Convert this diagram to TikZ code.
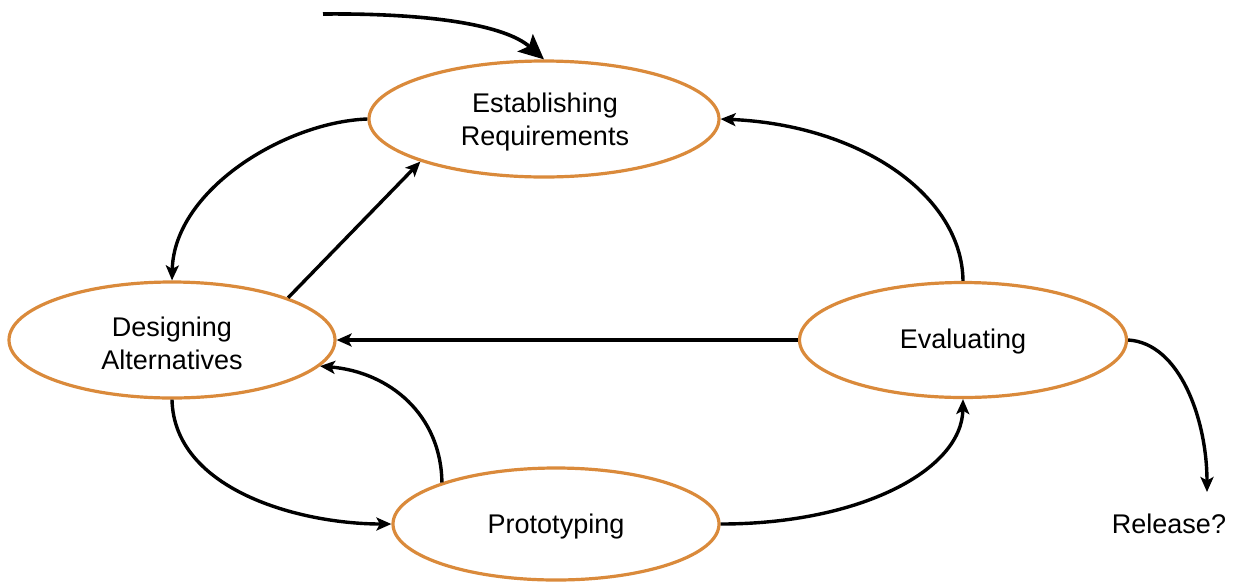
\documentclass[tikz,border=0pt]{standalone}
\usepackage{fontspec}
\setmainfont{Liberation Sans}
\usetikzlibrary{shapes.geometric,arrows.meta}
\definecolor{ringorange}{RGB}{218,138,59}
\tikzset{
  stage/.style={ellipse, draw=ringorange, line width=3.2pt, fill=white, inner sep=0pt},
  stagetext/.style={align=center, inner sep=0pt, font=\fontsize{27}{33}\selectfont},
  flow/.style={line width=3.4pt, -{Stealth[length=15pt,width=13pt,inset=3.5pt]}},
  bigflow/.style={line width=3.6pt, -{Stealth[length=25pt,width=23pt,inset=5pt]}},
  lbl/.style={font=\fontsize{27}{33}\selectfont, inner sep=0pt}
}
\begin{document}
\begin{tikzpicture}[x=1pt,y=-1pt]
\useasboundingbox (0,0) rectangle (1234,582);
\node[stage, minimum width=350pt, minimum height=116pt] (er) at (544,119) {};
\node[stage, minimum width=326pt, minimum height=116pt] (da) at (172,340) {};
\node[stage, minimum width=327pt, minimum height=115pt] (ev) at (963,340) {};
\node[stage, minimum width=326pt, minimum height=112pt] (pr) at (556,524) {};
\node[stagetext] (ert) at (545,122) {Establishing\\Requirements};
\node[stagetext] (dat) at (172,343) {Designing\\Alternatives};
\node[stagetext] (evt) at (963,342) {Evaluating};
\node[stagetext] (prt) at (556,527) {Prototyping};
\node[lbl] (rel) at (1169,524) {Release?};
\coordinate (start) at (323,14);
\coordinate (relend) at (1207,492);

\draw[bigflow] (start) .. controls (430,13) and (505,25) .. (er.north);
\draw[flow] (er.west) .. controls (285,122) and (174,190) .. (da.north);
\draw[flow] (da.20) -- (er.199);
\draw[flow] (ev.west) -- (da.east);
\draw[flow] (ev.north) .. controls (962,195) and (860,125) .. (er.east);
\draw[flow] (da.south) .. controls (174,490) and (300,524) .. (pr.west);
\draw[flow] (pr.160) .. controls (441,415) and (390,372) .. (da.-10);
\draw[flow] (pr.east) .. controls (860,524) and (962,470) .. (ev.south);
\draw[flow] (ev.east) .. controls (1180,343) and (1207,420) .. (relend);
\end{tikzpicture}
\end{document}
